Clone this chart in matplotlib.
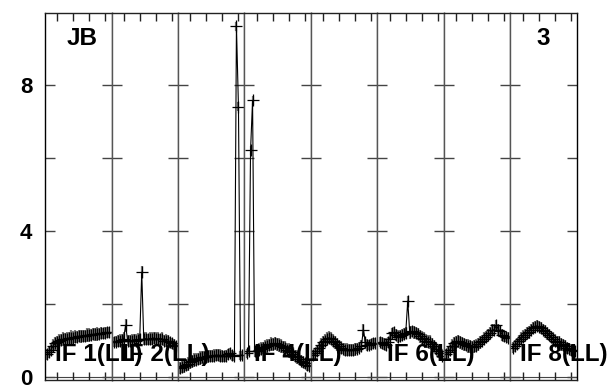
import matplotlib
matplotlib.use('Agg')
import matplotlib.pyplot as plt

plt.rcParams['font.family'] = ['Liberation Sans', 'DejaVu Sans']
plt.rcParams['font.weight'] = 'bold'

# channel numbers within one IF
channels = list(range(1, 33))

# amplitude per channel, one list per IF
if1 = [0.62, 0.68, 0.75, 0.85, 0.92, 0.97, 1.0, 1.02, 1.03, 1.05, 1.05, 1.07, 1.08, 1.08, 1.1, 1.1,
       1.12, 1.12, 1.13, 1.13, 1.15, 1.15, 1.15, 1.17, 1.17, 1.18, 1.18, 1.2, 1.2, 1.2, 1.22, 1.22]
if2 = [0.95, 0.97, 0.98, 1.0, 1.02, 1.05, 1.42, 1.0, 0.98, 1.0, 1.02, 1.0, 1.02, 1.03, 2.87, 1.05,
       1.05, 1.03, 1.05, 1.05, 1.07, 1.05, 1.05, 1.03, 1.05, 1.0, 1.0, 0.98, 0.95, 0.92, 0.88, 0.85]
if3 = [0.25, 0.27, 0.3, 0.33, 0.36, 0.4, 0.43, 0.46, 0.48, 0.5, 0.52, 0.54, 0.55, 0.56, 0.57, 0.58,
       0.58, 0.59, 0.6, 0.6, 0.59, 0.58, 0.57, 0.58, 0.62, 0.65, 0.6, 0.58, 9.6, 7.4, 0.6, 0.6]
if4 = [0.65, 0.7, 6.2, 7.57, 0.7, 0.72, 0.75, 0.78, 0.8, 0.82, 0.85, 0.87, 0.9, 0.9, 0.92, 0.9,
       0.88, 0.85, 0.82, 0.8, 0.75, 0.72, 0.68, 0.62, 0.58, 0.55, 0.5, 0.45, 0.42, 0.38, 0.33, 0.3]
if5 = [0.6, 0.65, 0.72, 0.8, 0.88, 0.95, 1.0, 1.05, 1.08, 1.05, 1.0, 0.95, 0.9, 0.85, 0.8, 0.78,
       0.75, 0.75, 0.74, 0.74, 0.75, 0.76, 0.78, 0.8, 0.85, 1.3, 0.95, 0.88, 0.88, 0.9, 0.92, 0.93]
if6 = [0.95, 0.93, 0.9, 0.88, 0.95, 1.05, 1.2, 1.22, 1.15, 1.1, 1.12, 1.15, 1.18, 1.2, 2.08, 1.22,
       1.25, 1.22, 1.2, 1.18, 1.12, 1.08, 1.05, 1.0, 0.97, 0.95, 0.9, 0.85, 0.78, 0.7, 0.65, 0.58]
if7 = [0.62, 0.68, 0.75, 0.85, 0.92, 0.97, 0.98, 0.95, 0.92, 0.9, 0.88, 0.85, 0.84, 0.83, 0.84, 0.86,
       0.9, 0.95, 1.0, 1.05, 1.1, 1.15, 1.2, 1.28, 1.3, 1.42, 1.3, 1.25, 1.15, 1.12, 1.1, 1.08]
if8 = [0.8, 0.85, 0.9, 0.98, 1.05, 1.1, 1.15, 1.2, 1.23, 1.3, 1.35, 1.38, 1.4, 1.38, 1.35, 1.3,
       1.25, 1.2, 1.15, 1.1, 1.05, 1.0, 0.97, 0.95, 0.9, 0.87, 0.85, 0.8, 0.78, 0.75, 0.74, 0.72]

# error bars (gray), one list per IF
err1 = [0.14, 0.16, 0.17, 0.18, 0.17, 0.16, 0.18, 0.17, 0.19, 0.16, 0.18, 0.17, 0.2, 0.17, 0.18, 0.16,
        0.17, 0.18, 0.16, 0.17, 0.19, 0.18, 0.17, 0.16, 0.17, 0.18, 0.16, 0.17, 0.15, 0.16, 0.14, 0.15]
err2 = [0.14, 0.15, 0.16, 0.17, 0.16, 0.17, 0.18, 0.16, 0.17, 0.18, 0.16, 0.17, 0.18, 0.16, 0.17, 0.18,
        0.17, 0.16, 0.18, 0.17, 0.16, 0.18, 0.17, 0.16, 0.17, 0.16, 0.17, 0.16, 0.15, 0.16, 0.15, 0.14]
err3 = [0.16, 0.17, 0.18, 0.17, 0.19, 0.18, 0.17, 0.19, 0.18, 0.17, 0.19, 0.18, 0.17, 0.16, 0.18, 0.17,
        0.16, 0.18, 0.17, 0.16, 0.17, 0.16, 0.15, 0.16, 0.15, 0.14, 0.15, 0.14, 0.12, 0.12, 0.12, 0.12]
err4 = [0.12, 0.12, 0.12, 0.12, 0.14, 0.16, 0.17, 0.18, 0.17, 0.19, 0.18, 0.17, 0.19, 0.18, 0.17, 0.18,
        0.19, 0.18, 0.17, 0.19, 0.18, 0.2, 0.18, 0.19, 0.17, 0.18, 0.17, 0.16, 0.17, 0.15, 0.16, 0.14]
err5 = [0.14, 0.15, 0.16, 0.17, 0.18, 0.17, 0.19, 0.18, 0.17, 0.18, 0.19, 0.17, 0.18, 0.17, 0.18, 0.16,
        0.17, 0.18, 0.16, 0.17, 0.16, 0.17, 0.16, 0.15, 0.16, 0.14, 0.15, 0.16, 0.14, 0.15, 0.14, 0.14]
err6 = [0.14, 0.16, 0.17, 0.18, 0.16, 0.17, 0.15, 0.16, 0.17, 0.18, 0.17, 0.16, 0.17, 0.16, 0.14, 0.17,
        0.16, 0.18, 0.17, 0.16, 0.18, 0.17, 0.19, 0.18, 0.17, 0.19, 0.18, 0.17, 0.18, 0.17, 0.16, 0.15]
err7 = [0.15, 0.16, 0.17, 0.18, 0.17, 0.16, 0.18, 0.17, 0.19, 0.18, 0.17, 0.19, 0.18, 0.17, 0.18, 0.17,
        0.18, 0.17, 0.16, 0.18, 0.17, 0.16, 0.17, 0.16, 0.15, 0.14, 0.16, 0.15, 0.16, 0.15, 0.14, 0.14]
err8 = [0.15, 0.16, 0.17, 0.16, 0.17, 0.18, 0.16, 0.17, 0.18, 0.16, 0.17, 0.16, 0.15, 0.16, 0.17, 0.16,
        0.17, 0.18, 0.16, 0.17, 0.18, 0.17, 0.16, 0.17, 0.18, 0.16, 0.17, 0.16, 0.15, 0.16, 0.15, 0.14]

spectra = [if1, if2, if3, if4, if5, if6, if7, if8]
errors = [err1, err2, err3, err4, err5, err6, err7, err8]
if_labels = ['IF 1(LL)', 'IF 2(LL)', '', 'IF 4(LL)', '', 'IF 6(LL)', '', 'IF 8(LL)']

y_ticks = [0, 2, 4, 6, 8]
y_tick_labels = ['0', '', '4', '', '8']
x_ticks = [6, 14, 22, 30]

W, H = 614, 385
fig, axes = plt.subplots(1, 8, sharey=True, figsize=(W / 100, H / 100), dpi=100)
fig.subplots_adjust(left=45 / W, right=577 / W, top=1 - 12.7 / H, bottom=1 - 380 / H, wspace=0)

for i, ax in enumerate(axes):
    ax.errorbar(channels, spectra[i], yerr=errors[i], fmt='none', ecolor='#7a7a7a',
                elinewidth=1.6, capsize=0, zorder=1)
    ax.plot(channels, spectra[i], color='black', lw=0.8, marker='+', ms=9, mew=0.9, zorder=2)
    ax.axhline(0, color='#444444', lw=0.8, zorder=0)
    ax.set_xlim(0, 33)
    ax.set_ylim(-0.08, 9.97)
    ax.set_xticks(x_ticks)
    ax.set_xticklabels([])
    ax.tick_params(axis='x', direction='in', top=True, bottom=True, length=5.5, width=1,
                   color='#222222')
    ax.tick_params(axis='y', direction='in', left=True, right=True, length=7, width=1,
                   color='#444444', labelsize=16, pad=9)
    for side, sp in ax.spines.items():
        sp.set_linewidth(1)
        if side in ('left', 'right'):
            sp.set_color('#555555')
        else:
            sp.set_color('#222222')

axes[0].spines['left'].set_color('black')
axes[-1].spines['right'].set_color('black')
axes[0].set_yticks(y_ticks)
axes[0].set_yticklabels(y_tick_labels, fontweight='bold')

# IF labels along the bottom of each panel
for i, ax in enumerate(axes):
    if if_labels[i]:
        pos = ax.get_position()
        fig.text(pos.x0 + 10 / W, 1 - 361 / H, if_labels[i], fontsize=17.5, fontweight='bold',
                 ha='left', va='baseline', zorder=5)

axes[0].text(22 / 66.5, 1 - 14 / 366.3, 'JB', transform=axes[0].transAxes, fontsize=17.5,
             fontweight='bold', ha='left', va='top')
axes[-1].text(26 / 66.5, 1 - 14 / 366.3, '3', transform=axes[-1].transAxes, fontsize=17.5,
              fontweight='bold', ha='left', va='top')

fig.savefig('out.png', dpi=100)
